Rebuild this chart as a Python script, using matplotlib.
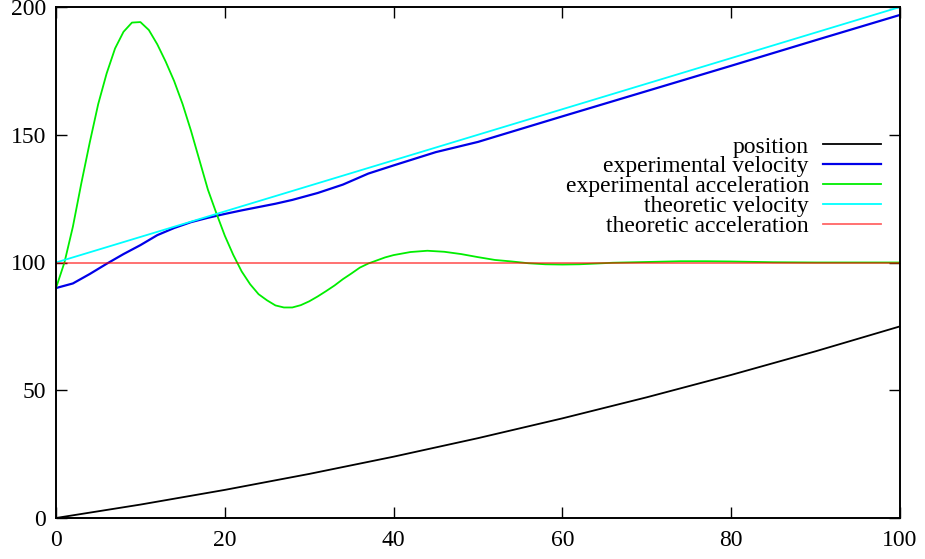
import matplotlib
matplotlib.use("Agg")
import matplotlib.pyplot as plt

plt.rcParams['font.family'] = ['Liberation Serif', 'DejaVu Serif']

# position
t_pos = [0, 10, 20, 30, 40, 50, 60, 70, 80, 90, 100]
position = [0, 5.25, 11, 17.25, 24, 31.25, 39, 47.25, 56, 65.25, 75]

# experimental velocity
t_vel = [0, 2, 4, 6, 8, 10, 12, 14, 16, 18, 20, 22, 24, 26, 28, 31, 34, 37, 40,
         45, 50, 60, 70, 80, 90, 100]
exp_vel = [90, 91.8, 95.5, 99.5, 103.3, 106.8, 110.7, 113.5, 115.8, 117.5, 119,
           120.4, 121.7, 123, 124.5, 127.2, 130.5, 134.8, 138, 143.2, 147.2,
           157.2, 167.1, 177, 187, 196.9]

# experimental acceleration
t_acc = [0, 1, 2, 3, 4, 5, 6, 7, 8, 9, 10, 11, 12, 13, 14, 15, 16, 17, 18, 19,
         20, 21, 22, 23, 24, 25, 26, 27, 28, 29, 30, 31, 32, 33, 34, 35, 36, 37,
         38, 39, 40, 42, 44, 46, 48, 50, 52, 54, 56, 58, 60, 62, 64, 66, 70, 74,
         77, 80, 85, 90, 100]
exp_acc = [90, 100, 114, 131, 147, 162, 174, 183.8, 190.3, 193.9, 194.1, 191,
           185.4, 178.6, 171, 162, 151.5, 140, 128.5, 119.3, 110.5, 103, 96.5,
           91.5, 87.6, 85.2, 83.2, 82.4, 82.4, 83.3, 84.8, 86.7, 88.8, 91, 93.5,
           95.7, 98, 99.6, 100.8, 102, 102.9, 104.1, 104.6, 104.2, 103.3, 102.1,
           101, 100.4, 99.7, 99.3, 99.2, 99.3, 99.6, 99.9, 100.2, 100.5, 100.5,
           100.4, 100.1, 100, 100]

# theoretic values
t_theo = [0, 100]
theo_vel = [100, 200]
theo_acc = [100, 100]

fig = plt.figure(figsize=(9.25, 5.59), dpi=100)
ax = fig.add_axes([56/925, 41/559, 844/925, 511/559])

ax.plot(t_pos, position, color='black', lw=1.3, label='position')
ax.plot(t_vel, exp_vel, color='#0000e8', lw=1.6, label='experimental velocity')
ax.plot(t_acc, exp_acc, color='#00ee00', lw=1.3, label='experimental acceleration')
ax.plot(t_theo, theo_vel, color='#00ffff', lw=1.3, label='theoretic velocity')
ax.plot(t_theo, theo_acc, color='red', alpha=0.6, lw=1.3, label='theoretic acceleration')

ax.set_xlim(0, 100)
ax.set_ylim(0, 200)
ax.set_xticks([0, 20, 40, 60, 80, 100])
ax.set_yticks([0, 50, 100, 150, 200])
ax.tick_params(direction='in', length=8, width=1, top=True, right=True,
               labelsize=17, pad=7)
ax.tick_params(axis='x', pad=9)
for s in ax.spines.values():
    s.set_linewidth(1.4)

leg = ax.legend(loc='upper right', bbox_to_anchor=(881/925, 1 - 136/559),
                bbox_transform=fig.transFigure, frameon=False, fontsize=17,
                markerfirst=False, handlelength=2.45, handletextpad=0.6,
                labelspacing=-0.07, borderpad=0, borderaxespad=0)
for txt in leg.get_texts():
    txt.set_ha('right')
leg._legend_box.align = 'right'

fig.savefig('out.png', dpi=100)
